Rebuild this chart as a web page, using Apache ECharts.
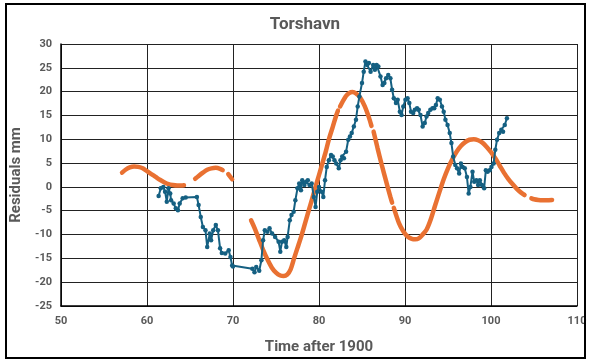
<!DOCTYPE html>
<html><head><meta charset="utf-8">
<script src="https://cdn.jsdelivr.net/npm/echarts@6/dist/echarts.min.js"></script>
<style>html,body{margin:0;padding:0;background:#fff;}#c{width:600px;height:363px;}</style>
</head><body><div id="c"></div>
<script>
const title = "Torshavn";
const xName = "Time after 1900";
const yName = "Residuals mm";
const xTicks = [50, 60, 70, 80, 90, 100, 110];
const yTicks = [-25, -20, -15, -10, -5, 0, 5, 10, 15, 20, 25, 30];

const obsYear = [61.35,61.6,61.9,62.1,62.3,62.5,62.7,62.8,63.1,63.35,63.6,63.8,64.15,64.5,65.8,66.0,66.25,66.5,66.8,67.0,67.3,67.45,67.7,68.0,68.25,68.5,68.7,69.1,69.5,69.7,69.9,70.0,
72.25,72.5,72.7,73.05,73.3,73.5,73.7,74.0,74.25,74.55,74.9,75.3,75.5,75.7,75.95,76.2,76.35,76.6,76.8,77.05,77.25,77.5,77.7,77.9,78.05,78.3,78.5,78.7,78.9,79.15,79.4,79.6,79.8,80.0,80.3,80.5,80.7,80.9,81.15,81.4,81.6,81.8,82.0,82.3,82.5,82.7,82.9,83.15,83.4,83.6,83.8,84.05,84.3,84.5,84.7,85.0,85.2,85.4,85.6,85.8,86.0,86.3,86.5,86.7,86.9,87.15,87.4,87.6,87.8,88.05,88.3,88.5,88.7,88.95,89.15,89.4,89.6,89.8,90.05,90.3,90.5,90.7,90.95,91.15,91.4,91.6,91.8,92.05,92.3,92.5,92.7,92.95,93.2,93.4,93.6,93.8,94.05,94.3,94.5,94.7,94.95,95.2,95.4,95.6,95.85,96.05,96.3,96.5,96.7,96.95,97.2,97.4,97.6,97.85,98.05,98.3,98.5,98.7,98.95,99.2,99.4,99.6,99.85,100.05,100.3,100.5,100.7,100.95,101.2,101.4,101.6,101.85];
const obsResid = [-1.9,-0.3,0.0,-1.0,-3.1,-0.3,-1.4,-2.8,-3.5,-4.5,-4.9,-3.5,-2.4,-2.2,-2.1,-3.8,-6.3,-8.4,-9.1,-12.6,-9.8,-11.2,-9.1,-8.0,-9.1,-12.9,-13.9,-14.0,-13.3,-14.7,-16.5,-16.7,
-17.2,-17.9,-16.8,-17.6,-15.4,-11.2,-9.1,-9.4,-8.7,-9.8,-10.5,-11.5,-13.6,-11.5,-11.2,-12.6,-10.5,-7.0,-5.9,-5.2,-2.8,-0.3,0.7,-0.7,1.4,0.4,1.1,1.4,0.4,0.7,-2.1,-4.2,-1.0,0.0,-1.0,-2.1,1.4,4.2,5.6,6.7,6.4,5.6,4.9,3.9,5.6,6.4,6.0,7.4,9.9,10.6,11.3,12.7,14.1,16.9,19.0,21.8,24.2,26.35,25.6,26.0,24.2,25.6,24.6,25.6,25.3,23.2,21.4,21.8,22.8,23.5,22.8,20.4,18.6,17.6,18.3,15.8,15.1,16.9,18.3,18.6,17.6,15.8,15.5,16.2,16.5,16.2,15.1,12.7,13.4,14.8,15.5,16.2,16.5,16.5,17.2,18.6,18.3,16.9,15.8,14.1,13.0,11.3,9.2,6.4,4.6,3.9,2.8,4.9,4.2,3.9,2.1,-1.4,0.0,3.2,1.1,1.4,0.4,1.4,0.4,-0.3,3.5,3.2,3.5,4.2,4.9,7.8,9.9,11.3,12.0,11.6,13.0,14.4];

const fitYear = [57.1,57.5,58.0,58.5,59.0,59.5,60.0,60.5,61.0,61.5,62.0,62.5,63.0,63.5,64.0,64.3,65.0,
65.6,66.0,66.5,67.0,67.5,68.0,68.5,68.8,69.1,69.45,69.9,71.0,
72.1,72.5,73.0,73.5,74.0,74.5,75.0,75.5,75.9,76.3,76.7,77.1,77.5,78.0,78.4,78.8,79.2,79.6,80.0,80.4,80.8,81.15,81.6,82.0,82.2,82.3,82.45,83.1,83.5,83.9,84.3,84.8,85.3,85.8,86.1,86.2,86.35,86.8,87.3,87.8,88.3,88.5,88.6,88.7,89.3,89.8,90.3,90.8,91.2,91.6,92.0,92.5,93.0,93.5,94.0,94.5,95.0,95.5,96.0,96.5,97.0,97.5,98.0,98.5,99.0,99.5,100.0,100.5,101.0,101.5,102.0,102.5,103.0,103.5,103.9,104.3,
104.7,105.0,105.5,106.0,106.5,107.1];
const fitResid = [3.0,3.6,4.1,4.3,4.2,3.9,3.3,2.7,2.1,1.5,1.0,0.6,0.4,0.3,0.3,0.35,null,
1.7,2.3,3.0,3.6,3.9,4.0,3.8,3.5,null,2.7,1.6,null,
-7.0,-8.6,-10.9,-13.2,-15.2,-16.9,-18.0,-18.6,-18.7,-18.4,-17.3,-15.0,-12.8,-10.0,-7.5,-5.0,-2.5,0.0,2.5,5.0,7.5,10.0,12.6,15.0,16.0,null,16.9,19.0,19.7,19.9,19.6,18.7,17.0,14.6,12.8,null,11.6,8.2,4.6,1.2,-2.1,-3.3,null,-4.4,-7.6,-9.3,-10.4,-10.9,-11.0,-10.8,-10.1,-9.0,-6.8,-3.9,-1.1,1.6,3.9,5.8,7.4,8.6,9.4,9.9,10.0,9.8,9.3,8.4,7.3,6.0,4.5,3.0,1.7,0.6,-0.4,-1.2,-1.7,null,
-2.4,-2.6,-2.75,-2.8,-2.8,-2.75];

const chart = echarts.init(document.getElementById('c'), null, {renderer: 'canvas'});
const fontFam = '"Roboto", sans-serif';
const txt = '#595959';
chart.setOption({
  animation: false,
  backgroundColor: '#ffffff',
  title: {text: title, left: 300, top: 11, textAlign: 'center',
    textStyle: {fontFamily: fontFam, fontSize: 17, fontWeight: 'bold', color: txt}},
  grid: {left: 61, right: 23, top: 44, bottom: 57, containLabel: false},
  xAxis: {type: 'value', min: xTicks[0], max: xTicks[xTicks.length-1], interval: 10,
    name: xName, nameLocation: 'middle', nameGap: 34,
    nameTextStyle: {fontFamily: fontFam, fontSize: 15, fontWeight: 'bold', color: txt},
    axisLine: {show: true, onZero: false, lineStyle: {color: '#000', width: 1.5}},
    axisTick: {show: false},
    axisLabel: {fontFamily: fontFam, fontSize: 11, fontWeight: 'bold', color: txt, margin: 10},
    splitLine: {show: true, lineStyle: {color: '#222', width: 1}}},
  yAxis: {type: 'value', min: yTicks[0], max: yTicks[yTicks.length-1], interval: 5,
    name: yName, nameLocation: 'middle', nameGap: 36, nameRotate: 90,
    nameTextStyle: {fontFamily: fontFam, fontSize: 15, fontWeight: 'bold', color: txt},
    axisLine: {show: true, lineStyle: {color: '#000', width: 1.5}},
    axisTick: {show: false},
    axisLabel: {fontFamily: fontFam, fontSize: 11, fontWeight: 'bold', color: txt, margin: 9},
    splitLine: {show: true, lineStyle: {color: '#222', width: 1}}},
  graphic: [{type: 'rect', shape: {x: 6, y: 4, width: 579, height: 354},
    style: {fill: 'none', stroke: '#000', lineWidth: 2}, silent: true, z: 100}],
  series: [
    {type: 'line', name: 'fit', data: fitYear.map((x, i) => [x, fitResid[i]]),
      showSymbol: false, smooth: 0.3, connectNulls: false,
      lineStyle: {color: '#E97132', width: 4.5, cap: 'round'}, itemStyle: {color: '#E97132'}, z: 3},
    {type: 'line', name: 'obs', data: obsYear.map((x, i) => [x, obsResid[i]]),
      symbol: 'circle', symbolSize: 4.5, showSymbol: true,
      lineStyle: {color: '#156082', width: 2}, itemStyle: {color: '#156082'}, z: 4}
  ]
});
</script></body></html>
